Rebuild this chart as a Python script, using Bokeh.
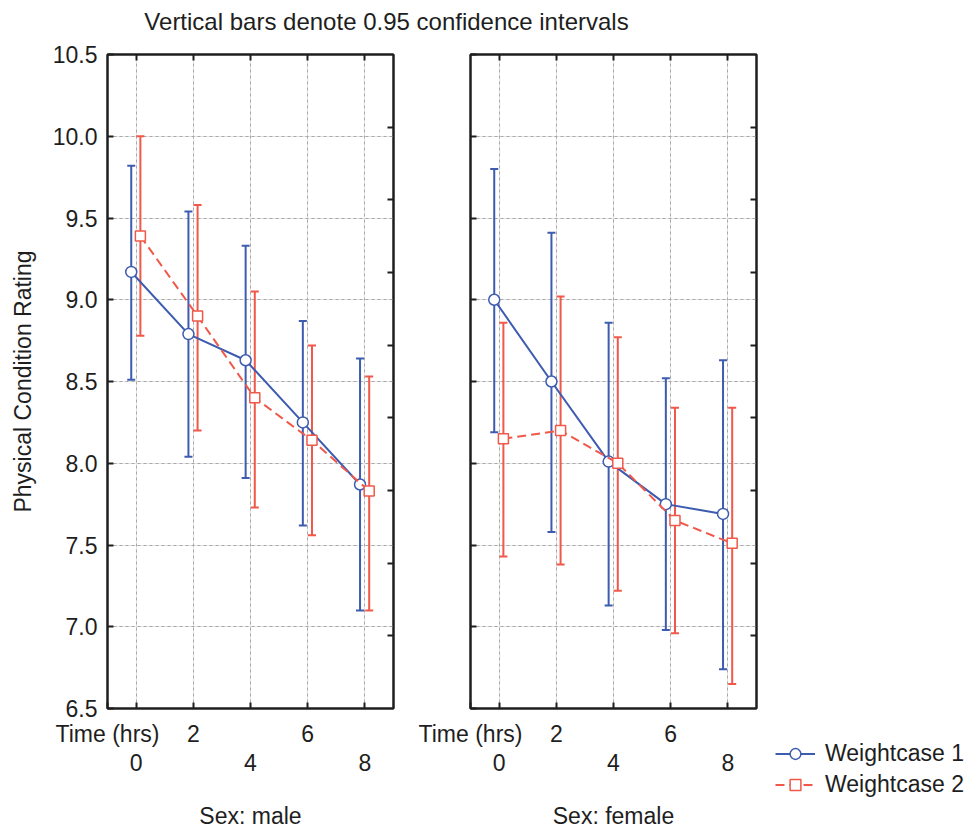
from bokeh.plotting import figure
from bokeh.models import (Range1d, LinearAxis, FixedTicker, Whisker, TeeHead, Spacer,
                          ColumnDataSource, Legend, LegendItem, Grid, CustomLabelingPolicy)
from bokeh.layouts import column, row
from bokeh.embed import file_html
from bokeh.resources import INLINE

# ---------------- data ----------------
TITLE = "Vertical bars denote 0.95 confidence intervals"
Y_LABEL = "Physical Condition Rating"
X_LABEL = "Time (hrs)"
TIME = [0, 2, 4, 6, 8]
Y_TICKS = [6.5, 7.0, 7.5, 8.0, 8.5, 9.0, 9.5, 10.0, 10.5]
Y_TICK_LABELS = ["6.5", "7.0", "7.5", "8.0", "8.5", "9.0", "9.5", "10.0", "10.5"]
RIGHT_TICKS = [1, 2, 3, 4, 5, 6, 7, 8]
SERIES = ["Weightcase 1", "Weightcase 2"]
PANEL_TITLES = ["Sex: male", "Sex: female"]

MALE_W1_MEAN = [9.17, 8.79, 8.63, 8.25, 7.87]
MALE_W1_LO = [8.51, 8.04, 7.91, 7.62, 7.10]
MALE_W1_HI = [9.82, 9.54, 9.33, 8.87, 8.64]
MALE_W2_MEAN = [9.39, 8.90, 8.40, 8.14, 7.83]
MALE_W2_LO = [8.78, 8.20, 7.73, 7.56, 7.10]
MALE_W2_HI = [10.00, 9.58, 9.05, 8.72, 8.53]

FEMALE_W1_MEAN = [9.00, 8.50, 8.01, 7.75, 7.69]
FEMALE_W1_LO = [8.19, 7.58, 7.13, 6.98, 6.74]
FEMALE_W1_HI = [9.80, 9.41, 8.86, 8.52, 8.63]
FEMALE_W2_MEAN = [8.15, 8.20, 8.00, 7.65, 7.51]
FEMALE_W2_LO = [7.43, 7.38, 7.22, 6.96, 6.65]
FEMALE_W2_HI = [8.86, 9.02, 8.77, 8.34, 8.34]

# ---------------- style ----------------
FONT = "Liberation Sans"
BLUE = "#3d5cb0"
RED = "#f0584a"
INK = "#1e1e1e"
GRID_C = "#a8a8a8"
FS = "23px"
OFFSETS = [-0.17, 0.15]
MARKERS = ["circle", "square"]
MSIZES = [11, 10]
COLORS = [BLUE, RED]
DASHES = ["solid", "9 5"]

NO_LABELS = CustomLabelingPolicy(
    code="const n = indices.size; for (let i = 0; i < n; i++) { indices.unset(i) } return indices")


def style_axis(ax):
    ax.major_label_text_font = FONT
    ax.major_label_text_font_size = FS
    ax.major_label_text_color = INK
    ax.axis_label_text_font = FONT
    ax.axis_label_text_font_size = FS
    ax.axis_label_text_font_style = "normal"
    ax.axis_label_text_color = INK
    ax.axis_line_color = INK
    ax.axis_line_width = 2
    ax.major_tick_line_color = INK
    ax.major_tick_line_width = 2
    ax.major_tick_in = 6
    ax.major_tick_out = 0
    ax.minor_tick_line_color = None


def hide_labels(ax):
    ax.major_label_text_font_size = "0px"
    ax.major_label_standoff = 0
    ax.major_label_policy = NO_LABELS


def make_panel(title, w1, w2, first, left_border, right_border):
    p = figure(frame_width=286, frame_height=654,
               x_range=Range1d(-1, 9), y_range=Range1d(6.5, 10.5),
               x_axis_location=None, y_axis_location=None,
               toolbar_location=None, output_backend="svg",
               min_border_left=left_border, min_border_right=right_border,
               min_border_top=14, min_border_bottom=0,
               outline_line_color=INK, outline_line_width=2,
               background_fill_color="white", border_fill_color="white")
    p.extra_y_ranges = {"r": Range1d(0, 9)}

    p.add_layout(Grid(dimension=0, ticker=FixedTicker(ticks=TIME),
                      grid_line_color=GRID_C, grid_line_dash="3 3", grid_line_width=1))
    p.add_layout(Grid(dimension=1, ticker=FixedTicker(ticks=Y_TICKS),
                      grid_line_color=GRID_C, grid_line_dash="3 3", grid_line_width=1))

    yl = LinearAxis(ticker=FixedTicker(ticks=Y_TICKS))
    style_axis(yl)
    if first:
        yl.major_label_overrides = {t: s for t, s in zip(Y_TICKS, Y_TICK_LABELS)}
        yl.major_label_standoff = 10
        yl.axis_label = Y_LABEL
        yl.axis_label_standoff = 14
    else:
        hide_labels(yl)
    p.add_layout(yl, "left")

    yr = LinearAxis(y_range_name="r", ticker=FixedTicker(ticks=RIGHT_TICKS))
    style_axis(yr)
    hide_labels(yr)
    p.add_layout(yr, "right")

    xt = LinearAxis(ticker=FixedTicker(ticks=TIME))
    style_axis(xt)
    hide_labels(xt)
    p.add_layout(xt, "above")

    upper = TIME[1::2]
    xa = LinearAxis(ticker=FixedTicker(ticks=[-1] + TIME))
    style_axis(xa)
    ov = {-1: X_LABEL}
    for t in TIME:
        ov[t] = str(t) if t in upper else ""
    xa.major_label_overrides = ov
    xa.major_label_standoff = 12
    p.add_layout(xa, "below")

    xb = LinearAxis(ticker=FixedTicker(ticks=TIME[0::2]))
    style_axis(xb)
    xb.axis_line_color = None
    xb.major_tick_line_color = None
    xb.major_tick_in = 0
    xb.major_label_standoff = 4
    xb.axis_label = title
    xb.axis_label_standoff = 29
    p.add_layout(xb, "below")

    sources = []
    for i, (mean, lo, hi) in enumerate([w1, w2]):
        src = ColumnDataSource(dict(x=[t + OFFSETS[i] for t in TIME], mean=mean, lo=lo, hi=hi))
        c = COLORS[i]
        wh = Whisker(source=src, base="x", lower="lo", upper="hi", dimension="height",
                     line_color=c, line_width=2,
                     upper_head=TeeHead(size=8, line_color=c, line_width=2),
                     lower_head=TeeHead(size=8, line_color=c, line_width=2))
        p.add_layout(wh)
        sources.append(src)

    for i, src in enumerate(sources):
        c = COLORS[i]
        p.line("x", "mean", source=src, line_color=c, line_width=2, line_dash=DASHES[i])
        p.scatter("x", "mean", source=src, marker=MARKERS[i], size=MSIZES[i],
                  fill_color="white", line_color=c, line_width=1.5)
    return p


w1m = (MALE_W1_MEAN, MALE_W1_LO, MALE_W1_HI)
w2m = (MALE_W2_MEAN, MALE_W2_LO, MALE_W2_HI)
w1f = (FEMALE_W1_MEAN, FEMALE_W1_LO, FEMALE_W1_HI)
w2f = (FEMALE_W2_MEAN, FEMALE_W2_LO, FEMALE_W2_HI)

p1 = make_panel(PANEL_TITLES[0], w1m, w2m, True, 107, 14)
p2 = make_panel(PANEL_TITLES[1], w1f, w2f, False, 63, 14)

# key figure: its frame is exactly the legend box
p3 = figure(width=207, height=62, x_range=Range1d(0, 1), y_range=Range1d(0, 1),
            x_axis_location=None, y_axis_location=None, toolbar_location=None,
            output_backend="svg", outline_line_color=None,
            min_border_left=5, min_border_right=0, min_border_top=0, min_border_bottom=0)
for g in p3.center:
    g.visible = False
items = []
for i in range(2):
    c = COLORS[i]
    key_src = ColumnDataSource(dict(x=[float("nan")], y=[float("nan")]))
    ln = p3.line("x", "y", source=key_src, line_color=c, line_width=2, line_dash=DASHES[i])
    sc = p3.scatter("x", "y", source=key_src, marker=MARKERS[i], size=MSIZES[i],
                    fill_color="white", line_color=c, line_width=1.5)
    items.append(LegendItem(label=SERIES[i], renderers=[ln, sc]))
legend = Legend(items=items, location="top_left", orientation="vertical",
                label_text_font=FONT, label_text_font_size=FS, label_text_color=INK,
                glyph_width=40, glyph_height=27, label_height=27, spacing=4,
                label_standoff=10, padding=0, margin=0,
                border_line_color=None, background_fill_alpha=0)
p3.add_layout(legend)

tf = figure(width=977, height=40, x_range=Range1d(0, 1), y_range=Range1d(0, 1),
            x_axis_location=None, y_axis_location=None, toolbar_location=None,
            output_backend="svg", outline_line_color=None,
            min_border_left=0, min_border_right=205, min_border_top=0, min_border_bottom=0,
            title=TITLE)
for g in tf.center:
    g.visible = False
tf.title.align = "center"
tf.title.text_font = FONT
tf.title.text_font_size = "24px"
tf.title.text_font_style = "normal"
tf.title.text_color = INK

layout = column(tf, row(p1, p2, column(Spacer(width=207, height=700), p3)))
open("out.html", "w").write(file_html(layout, INLINE))
